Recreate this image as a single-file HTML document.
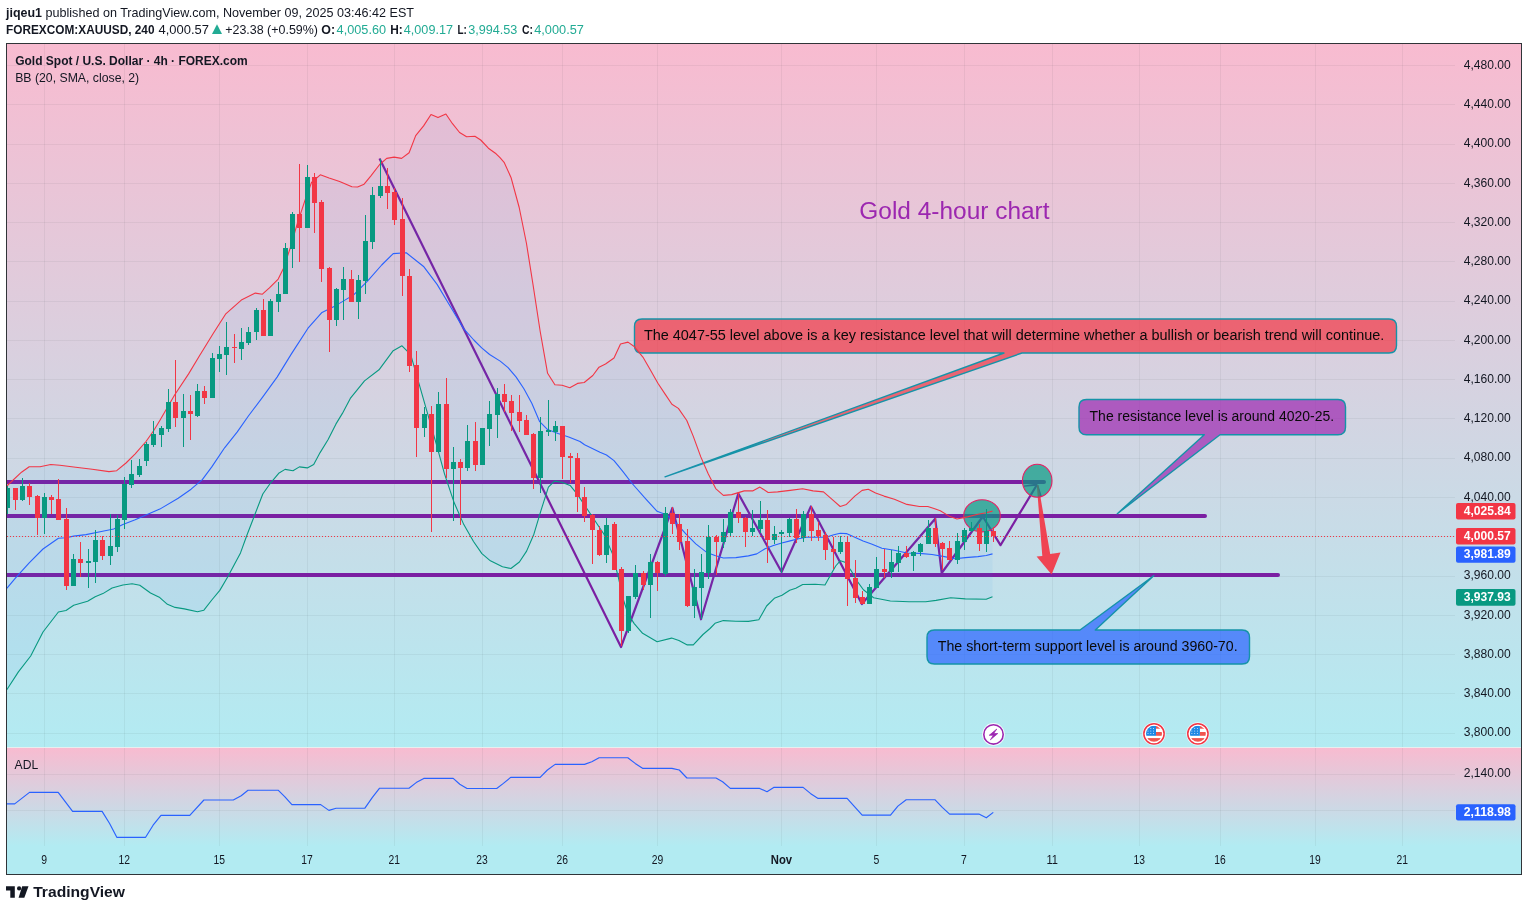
<!DOCTYPE html><html><head><meta charset="utf-8"><title>XAUUSD 4h chart</title>
<style>html,body{margin:0;padding:0;background:#fff;}body{width:1528px;height:911px;overflow:hidden;}svg{display:block;font-family:"Liberation Sans", Arial, sans-serif;}</style></head><body>
<svg width="1528" height="911" viewBox="0 0 1528 911">
<defs><linearGradient id="gMain" gradientUnits="userSpaceOnUse" x1="0" y1="44" x2="0" y2="747"><stop offset="0" stop-color="#F8BBD0"/><stop offset="1" stop-color="#B2EBF2"/></linearGradient><linearGradient id="gAdl" gradientUnits="userSpaceOnUse" x1="0" y1="748" x2="0" y2="846"><stop offset="0" stop-color="#F8BBD0"/><stop offset="1" stop-color="#B2EBF2"/></linearGradient><clipPath id="cPlot"><rect x="7" y="44" width="1448" height="703"/></clipPath><clipPath id="cAdl"><rect x="7" y="748" width="1448" height="98"/></clipPath><clipPath id="flagc1"><circle cx="0" cy="0" r="8"/></clipPath></defs>
<text x="6.0" y="17.0" font-size="13.20" font-weight="bold" fill="#131722" text-anchor="start" textLength="36.0" lengthAdjust="spacingAndGlyphs">jiqeu1</text>
<text x="45.5" y="17.0" font-size="13.20" font-weight="normal" fill="#131722" text-anchor="start" textLength="368.5" lengthAdjust="spacingAndGlyphs">published on TradingView.com, November 09, 2025 03:46:42 EST</text>
<text x="6.0" y="34.0" font-size="13.20" font-weight="bold" fill="#131722" text-anchor="start" textLength="148.5" lengthAdjust="spacingAndGlyphs">FOREXCOM:XAUUSD, 240</text>
<text x="158.5" y="34.0" font-size="13.20" font-weight="normal" fill="#131722" text-anchor="start" textLength="50.5" lengthAdjust="spacingAndGlyphs">4,000.57</text>
<polygon points="212,34 222,34 217,24.3" fill="#22AB94"/>
<text x="225.2" y="34.0" font-size="13.20" font-weight="normal" fill="#131722" text-anchor="start" textLength="92.8" lengthAdjust="spacingAndGlyphs">+23.38 (+0.59%)</text>
<text x="321.3" y="34.0" font-size="13.20" font-weight="bold" fill="#131722" text-anchor="start" textLength="13.8" lengthAdjust="spacingAndGlyphs">O:</text>
<text x="336.6" y="34.0" font-size="13.20" font-weight="normal" fill="#22AB94" text-anchor="start" textLength="49.5" lengthAdjust="spacingAndGlyphs">4,005.60</text>
<text x="390.3" y="34.0" font-size="13.20" font-weight="bold" fill="#131722" text-anchor="start" textLength="12.5" lengthAdjust="spacingAndGlyphs">H:</text>
<text x="403.8" y="34.0" font-size="13.20" font-weight="normal" fill="#22AB94" text-anchor="start" textLength="49.2" lengthAdjust="spacingAndGlyphs">4,009.17</text>
<text x="457.5" y="34.0" font-size="13.20" font-weight="bold" fill="#131722" text-anchor="start" textLength="9.4" lengthAdjust="spacingAndGlyphs">L:</text>
<text x="468.2" y="34.0" font-size="13.20" font-weight="normal" fill="#22AB94" text-anchor="start" textLength="49.2" lengthAdjust="spacingAndGlyphs">3,994.53</text>
<text x="521.9" y="34.0" font-size="13.20" font-weight="bold" fill="#131722" text-anchor="start" textLength="11.0" lengthAdjust="spacingAndGlyphs">C:</text>
<text x="534.2" y="34.0" font-size="13.20" font-weight="normal" fill="#22AB94" text-anchor="start" textLength="49.7" lengthAdjust="spacingAndGlyphs">4,000.57</text>
<rect x="7" y="44" width="1514" height="703" fill="url(#gMain)"/>
<rect x="7" y="747" width="1514" height="1" fill="#E8EEEF"/>
<rect x="7" y="748" width="1514" height="98" fill="url(#gAdl)"/>
<rect x="7" y="846" width="1514" height="28" fill="#B2EBF2"/>
<path d="M7 65.5H1455M7 104.5H1455M7 144.5H1455M7 183.5H1455M7 222.5H1455M7 261.5H1455M7 301.5H1455M7 340.5H1455M7 379.5H1455M7 418.5H1455M7 458.5H1455M7 497.5H1455M7 536.5H1455M7 576.5H1455M7 615.5H1455M7 654.5H1455M7 693.5H1455M7 733.5H1455M44.5 44V747M44.5 748V846M124.5 44V747M124.5 748V846M219.5 44V747M219.5 748V846M307.5 44V747M307.5 748V846M394.5 44V747M394.5 748V846M482.5 44V747M482.5 748V846M562.5 44V747M562.5 748V846M657.5 44V747M657.5 748V846M781.5 44V747M781.5 748V846M876.5 44V747M876.5 748V846M964.5 44V747M964.5 748V846M1052.5 44V747M1052.5 748V846M1139.5 44V747M1139.5 748V846M1220.5 44V747M1220.5 748V846M1315.5 44V747M1315.5 748V846M1402.5 44V747M1402.5 748V846M7 774.5H1455M7 810.5H1455" stroke="rgba(42,46,57,0.06)" stroke-width="1" fill="none"/>
<g clip-path="url(#cPlot)">
<path d="M4 482H1044M4 516H1205M4 575H1278" stroke="#7B1FA2" stroke-width="4" stroke-linecap="round" fill="none"/>
<polyline points="379.5,158.5 621.0,647.0 672.4,508.0 701.0,619.3 738.3,493.5 781.6,572.0 810.9,506.4 861.9,604.0 935.2,518.7 941.7,573.0 982.8,516.5 1000.5,545.2 1037.1,484.5" fill="none" stroke="#7B1FA2" stroke-width="2.2" stroke-linejoin="round"/>
<path d="M1037 483.6L1024 485.6L1024 486.8L1037 485.8Z" fill="#7B1FA2"/>
<path d="M1037.3 484.8L1041.2 497" stroke="#7B1FA2" stroke-width="1.6" fill="none"/>
<polygon points="1036.8,485 1038.4,485 1050.2,554 1060.5,552.5 1051.6,574.5 1036.6,556.4 1042.3,556" fill="#F23645" fill-opacity="0.92"/>
<ellipse cx="982" cy="515.8" rx="18.3" ry="16.1" fill="#089981" fill-opacity="0.7" stroke="#E91E63" stroke-width="1.1"/>
<ellipse cx="1037.2" cy="480.8" rx="14.8" ry="16.5" fill="#089981" fill-opacity="0.7" stroke="#E91E63" stroke-width="1.1"/>
<path d="M642.0 319.0 H1389.0 Q1396.5 319.0 1396.5 326.5 V345.5 Q1396.5 353.0 1389.0 353.0 H1022.0 L665.0 476.8 L1004.0 353.0 H642.0 Q634.5 353.0 634.5 345.5 V326.5 Q634.5 319.0 642.0 319.0Z" fill="#F23645" fill-opacity="0.7" stroke="#1593A8" stroke-width="1.4" stroke-linejoin="round"/>
<path d="M1086.5 399.5 H1338.0 Q1345.5 399.5 1345.5 407.0 V427.3 Q1345.5 434.8 1338.0 434.8 H1220.0 L1117.3 513.7 L1204.3 434.8 H1086.5 Q1079.0 434.8 1079.0 427.3 V407.0 Q1079.0 399.5 1086.5 399.5Z" fill="#9C27B0" fill-opacity="0.7" stroke="#1593A8" stroke-width="1.4" stroke-linejoin="round"/>
<path d="M934.5 630.0 H1080.0 L1153.7 575.7 L1095.3 630.0 H1242.0 Q1249.5 630.0 1249.5 637.5 V656.5 Q1249.5 664.0 1242.0 664.0 H934.5 Q927.0 664.0 927.0 656.5 V637.5 Q927.0 630.0 934.5 630.0Z" fill="#2962FF" fill-opacity="0.7" stroke="#1593A8" stroke-width="1.4" stroke-linejoin="round"/>
<text x="643.9" y="340.2" font-size="14.00" font-weight="normal" fill="#0a0a0a" text-anchor="start" textLength="740.5" lengthAdjust="spacingAndGlyphs">The 4047-55 level above is a key resistance level that will determine whether a bullish or bearish trend will continue.</text>
<text x="1089.6" y="421.2" font-size="14.00" font-weight="normal" fill="#0a0a0a" text-anchor="start" textLength="244.5" lengthAdjust="spacingAndGlyphs">The resistance level is around 4020-25.</text>
<text x="937.8" y="651.0" font-size="14.00" font-weight="normal" fill="#0a0a0a" text-anchor="start" textLength="299.8" lengthAdjust="spacingAndGlyphs">The short-term support level is around 3960-70.</text>
<text x="859.3" y="218.6" font-size="23.00" font-weight="normal" fill="#9C27B0" text-anchor="start" textLength="190.2" lengthAdjust="spacingAndGlyphs">Gold 4-hour chart</text>
<polygon points="6.8,486.0 21.5,472.2 29.2,466.7 40.0,466.7 50.7,464.5 59.9,465.2 73.7,467.0 92.2,469.2 109.0,471.6 116.7,470.7 126.0,463.0 135.2,453.8 146.0,441.5 153.6,430.8 159.8,420.5 174.6,395.0 188.6,373.9 199.2,356.3 213.2,333.5 225.5,314.2 241.3,300.1 255.3,293.1 262.4,294.2 269.4,287.8 278.2,279.1 283.4,268.5 290.4,247.5 297.5,222.9 304.5,201.8 311.5,182.5 320.3,174.8 329.1,178.0 339.6,181.5 351.9,186.7 357.6,187.0 364.1,184.2 370.7,176.1 379.7,164.5 386.7,158.4 394.1,157.1 401.6,158.4 409.1,152.7 415.7,135.6 423.6,125.9 431.0,114.5 438.0,117.6 445.9,114.0 452.5,123.7 459.6,132.5 466.6,136.7 474.9,136.2 480.7,140.0 488.4,148.2 496.1,153.8 500.0,157.7 504.1,162.3 511.0,177.4 519.2,207.5 526.4,243.0 533.0,284.5 540.2,331.5 547.6,373.3 554.9,384.8 562.1,385.3 569.8,387.7 577.5,383.4 584.2,382.5 592.8,375.5 599.0,367.2 605.5,364.0 614.0,358.0 620.5,344.0 628.0,342.1 634.5,346.8 642.9,357.1 650.4,370.1 657.9,383.2 665.3,394.4 671.9,404.3 678.4,408.4 686.8,420.5 693.3,436.4 700.8,456.9 708.2,473.7 715.7,488.6 723.4,495.4 731.7,494.6 744.2,490.9 752.6,490.9 759.9,487.1 768.2,492.5 777.6,491.9 790.1,490.4 802.6,488.8 813.1,490.9 823.5,491.9 831.8,499.2 840.2,506.5 846.4,504.4 854.8,496.1 862.1,490.4 868.3,489.2 875.6,492.9 884.0,496.1 894.4,499.2 906.9,504.4 919.5,506.5 927.8,506.5 934.0,508.6 940.3,510.7 948.7,515.9 957.0,519.0 967.4,516.9 977.9,514.2 986.2,512.8 992.5,511.1 992.5,596.8 986.2,599.3 965.3,598.9 950.7,597.7 936.1,600.4 925.7,601.8 909.0,601.8 890.3,601.0 873.6,597.7 869.5,594.5 863.4,589.8 857.3,581.4 851.1,570.6 845.0,562.2 840.4,560.7 835.7,566.0 829.6,576.8 825.0,585.0 815.2,584.3 802.7,584.5 795.8,588.3 789.7,590.3 782.0,595.2 774.3,598.3 766.6,606.0 758.8,619.8 748.4,621.4 735.9,621.2 723.4,620.6 715.0,623.3 710.0,628.5 703.0,634.5 693.3,644.9 687.3,644.9 678.9,640.5 671.6,638.1 657.1,641.7 642.6,633.3 634.2,623.6 628.1,614.0 623.3,599.5 618.4,577.7 612.4,553.6 604.0,534.2 594.3,519.7 584.6,505.2 577.4,494.4 570.1,485.4 561.7,482.3 554.4,481.1 548.4,487.1 541.1,510.1 533.9,534.2 526.6,551.1 519.4,562.0 510.9,568.5 502.5,566.8 490.4,560.8 481.9,553.6 473.5,541.5 463.8,524.6 454.2,502.8 444.5,473.8 437.1,446.8 428.3,416.1 419.5,385.3 410.7,354.6 402.0,345.8 393.2,350.7 379.0,369.8 364.5,380.9 350.3,398.4 342.4,413.4 336.0,423.9 328.0,439.8 320.1,452.6 313.7,464.4 307.3,467.9 299.4,466.9 293.0,470.7 285.1,469.4 278.7,473.3 270.7,482.8 262.8,494.0 254.8,514.7 246.9,535.3 240.5,552.9 227.8,576.7 219.8,590.4 211.8,600.0 203.9,610.2 197.5,611.8 184.3,608.9 175.1,607.4 167.4,604.3 159.8,597.6 150.5,593.0 139.8,585.3 132.1,583.7 122.9,585.0 112.1,588.0 102.9,593.6 95.2,596.7 87.6,601.3 73.7,605.2 66.0,610.5 58.4,612.0 43.0,632.0 30.7,656.0 18.4,671.9 6.8,689.7" fill="rgba(33,150,243,0.06)" stroke="none"/>
<polyline points="6.8,486.0 21.5,472.2 29.2,466.7 40.0,466.7 50.7,464.5 59.9,465.2 73.7,467.0 92.2,469.2 109.0,471.6 116.7,470.7 126.0,463.0 135.2,453.8 146.0,441.5 153.6,430.8 159.8,420.5 174.6,395.0 188.6,373.9 199.2,356.3 213.2,333.5 225.5,314.2 241.3,300.1 255.3,293.1 262.4,294.2 269.4,287.8 278.2,279.1 283.4,268.5 290.4,247.5 297.5,222.9 304.5,201.8 311.5,182.5 320.3,174.8 329.1,178.0 339.6,181.5 351.9,186.7 357.6,187.0 364.1,184.2 370.7,176.1 379.7,164.5 386.7,158.4 394.1,157.1 401.6,158.4 409.1,152.7 415.7,135.6 423.6,125.9 431.0,114.5 438.0,117.6 445.9,114.0 452.5,123.7 459.6,132.5 466.6,136.7 474.9,136.2 480.7,140.0 488.4,148.2 496.1,153.8 500.0,157.7 504.1,162.3 511.0,177.4 519.2,207.5 526.4,243.0 533.0,284.5 540.2,331.5 547.6,373.3 554.9,384.8 562.1,385.3 569.8,387.7 577.5,383.4 584.2,382.5 592.8,375.5 599.0,367.2 605.5,364.0 614.0,358.0 620.5,344.0 628.0,342.1 634.5,346.8 642.9,357.1 650.4,370.1 657.9,383.2 665.3,394.4 671.9,404.3 678.4,408.4 686.8,420.5 693.3,436.4 700.8,456.9 708.2,473.7 715.7,488.6 723.4,495.4 731.7,494.6 744.2,490.9 752.6,490.9 759.9,487.1 768.2,492.5 777.6,491.9 790.1,490.4 802.6,488.8 813.1,490.9 823.5,491.9 831.8,499.2 840.2,506.5 846.4,504.4 854.8,496.1 862.1,490.4 868.3,489.2 875.6,492.9 884.0,496.1 894.4,499.2 906.9,504.4 919.5,506.5 927.8,506.5 934.0,508.6 940.3,510.7 948.7,515.9 957.0,519.0 967.4,516.9 977.9,514.2 986.2,512.8 992.5,511.1" fill="none" stroke="#F23645" stroke-width="1.1" stroke-linejoin="round"/>
<polyline points="6.8,588.4 15.4,578.2 29.2,562.9 43.0,549.0 58.4,538.3 66.0,537.7 73.7,536.1 86.0,534.6 101.4,531.5 113.7,529.0 122.9,524.5 135.2,519.8 159.8,509.1 178.2,498.3 191.1,489.2 202.3,479.6 211.8,466.9 224.6,447.8 237.3,431.9 248.4,416.0 262.8,396.9 277.1,377.1 291.4,353.9 308.0,328.2 322.0,312.4 336.1,305.4 353.7,294.9 367.7,280.8 381.7,265.0 393.2,253.6 406.3,252.8 423.9,266.8 437.1,284.4 450.2,306.3 463.4,328.3 473.8,340.0 481.7,347.9 489.6,354.5 500.2,361.1 508.1,367.7 516.0,376.9 523.9,388.8 531.8,403.3 539.7,421.7 547.6,429.6 558.1,433.6 568.7,437.0 580.0,441.5 584.6,444.8 600.0,452.2 606.5,455.0 614.0,460.6 622.4,470.9 631.7,483.0 645.7,498.9 657.1,511.3 666.8,514.9 676.4,523.4 686.1,534.2 695.8,543.9 706.7,552.4 715.0,555.5 723.4,558.0 735.9,557.6 748.4,555.9 756.8,553.9 765.1,548.8 773.4,545.5 781.8,543.0 790.1,540.9 798.5,538.8 806.8,537.2 817.2,537.2 825.6,537.2 833.9,534.7 840.2,533.2 846.4,533.6 854.8,537.2 863.1,540.9 871.5,544.1 881.9,548.2 894.4,550.3 906.9,553.0 919.5,553.4 932.0,554.5 944.5,556.6 954.9,558.7 965.3,557.6 977.9,556.6 986.2,555.5 992.5,553.9" fill="none" stroke="#2962FF" stroke-width="1.1" stroke-linejoin="round"/>
<polyline points="6.8,689.7 18.4,671.9 30.7,656.0 43.0,632.0 58.4,612.0 66.0,610.5 73.7,605.2 87.6,601.3 95.2,596.7 102.9,593.6 112.1,588.0 122.9,585.0 132.1,583.7 139.8,585.3 150.5,593.0 159.8,597.6 167.4,604.3 175.1,607.4 184.3,608.9 197.5,611.8 203.9,610.2 211.8,600.0 219.8,590.4 227.8,576.7 240.5,552.9 246.9,535.3 254.8,514.7 262.8,494.0 270.7,482.8 278.7,473.3 285.1,469.4 293.0,470.7 299.4,466.9 307.3,467.9 313.7,464.4 320.1,452.6 328.0,439.8 336.0,423.9 342.4,413.4 350.3,398.4 364.5,380.9 379.0,369.8 393.2,350.7 402.0,345.8 410.7,354.6 419.5,385.3 428.3,416.1 437.1,446.8 444.5,473.8 454.2,502.8 463.8,524.6 473.5,541.5 481.9,553.6 490.4,560.8 502.5,566.8 510.9,568.5 519.4,562.0 526.6,551.1 533.9,534.2 541.1,510.1 548.4,487.1 554.4,481.1 561.7,482.3 570.1,485.4 577.4,494.4 584.6,505.2 594.3,519.7 604.0,534.2 612.4,553.6 618.4,577.7 623.3,599.5 628.1,614.0 634.2,623.6 642.6,633.3 657.1,641.7 671.6,638.1 678.9,640.5 687.3,644.9 693.3,644.9 703.0,634.5 710.0,628.5 715.0,623.3 723.4,620.6 735.9,621.2 748.4,621.4 758.8,619.8 766.6,606.0 774.3,598.3 782.0,595.2 789.7,590.3 795.8,588.3 802.7,584.5 815.2,584.3 825.0,585.0 829.6,576.8 835.7,566.0 840.4,560.7 845.0,562.2 851.1,570.6 857.3,581.4 863.4,589.8 869.5,594.5 873.6,597.7 890.3,601.0 909.0,601.8 925.7,601.8 936.1,600.4 950.7,597.7 965.3,598.9 986.2,599.3 992.5,596.8" fill="none" stroke="#089981" stroke-width="1.1" stroke-linejoin="round"/>
<path d="M5 488h5v20h-5zM7 486h1v2h-1zM7 508h1v6h-1zM20 486h5v14h-5zM22 478h1v8h-1zM22 500h1v1h-1zM42 497h5v21h-5zM44 493h1v4h-1zM44 518h1v16h-1zM71 559h5v27h-5zM73 554h1v5h-1zM86 561h5v2h-5zM88 549h1v12h-1zM88 563h1v25h-1zM93 540h5v22h-5zM95 530h1v10h-1zM95 562h1v21h-1zM108 546h5v10h-5zM110 514h1v32h-1zM110 556h1v9h-1zM115 519h5v28h-5zM117 515h1v4h-1zM117 547h1v5h-1zM122 484h5v36h-5zM124 477h1v7h-1zM124 520h1v9h-1zM129 474h5v11h-5zM131 460h1v14h-1zM131 485h1v3h-1zM137 466h5v9h-5zM139 459h1v7h-1zM139 475h1v2h-1zM144 444h5v17h-5zM146 442h1v2h-1zM146 461h1v5h-1zM151 434h5v11h-5zM153 421h1v13h-1zM153 445h1v2h-1zM159 428h5v7h-5zM161 426h1v2h-1zM161 435h1v12h-1zM166 402h5v27h-5zM168 389h1v13h-1zM168 429h1v3h-1zM181 411h5v7h-5zM183 394h1v17h-1zM183 418h1v29h-1zM195 391h5v25h-5zM197 384h1v7h-1zM197 416h1v1h-1zM210 358h5v40h-5zM212 353h1v5h-1zM217 354h5v5h-5zM219 346h1v8h-1zM219 359h1v13h-1zM224 347h5v8h-5zM226 322h1v25h-1zM226 355h1v20h-1zM239 342h5v7h-5zM241 328h1v14h-1zM241 349h1v11h-1zM246 332h5v11h-5zM248 327h1v5h-1zM248 343h1v2h-1zM254 310h5v22h-5zM256 308h1v2h-1zM256 332h1v8h-1zM268 301h5v35h-5zM270 299h1v2h-1zM276 294h5v8h-5zM278 282h1v12h-1zM278 302h1v10h-1zM283 248h5v46h-5zM285 243h1v5h-1zM290 214h5v35h-5zM292 212h1v2h-1zM292 249h1v19h-1zM305 177h5v51h-5zM307 165h1v12h-1zM334 289h5v31h-5zM336 288h1v1h-1zM336 320h1v6h-1zM341 279h5v11h-5zM343 267h1v12h-1zM343 290h1v30h-1zM356 280h5v22h-5zM358 275h1v5h-1zM358 302h1v17h-1zM363 241h5v40h-5zM365 215h1v26h-1zM365 281h1v13h-1zM370 195h5v47h-5zM372 187h1v8h-1zM372 242h1v7h-1zM378 186h5v10h-5zM380 159h1v27h-1zM380 196h1v2h-1zM422 414h5v14h-5zM424 407h1v7h-1zM424 428h1v9h-1zM436 404h5v48h-5zM438 392h1v12h-1zM438 452h1v1h-1zM451 462h5v7h-5zM453 447h1v15h-1zM453 469h1v52h-1zM465 441h5v27h-5zM467 425h1v16h-1zM467 468h1v3h-1zM480 428h5v37h-5zM487 414h5v15h-5zM489 401h1v13h-1zM489 429h1v17h-1zM495 394h5v21h-5zM497 388h1v6h-1zM497 415h1v23h-1zM538 431h5v47h-5zM540 417h1v14h-1zM540 478h1v15h-1zM546 430h5v2h-5zM548 400h1v30h-1zM548 432h1v4h-1zM553 426h5v6h-5zM555 421h1v5h-1zM555 432h1v9h-1zM604 525h5v30h-5zM606 518h1v7h-1zM606 555h1v8h-1zM626 596h5v35h-5zM628 631h1v2h-1zM633 573h5v24h-5zM635 565h1v8h-1zM635 597h1v2h-1zM648 562h5v23h-5zM650 554h1v8h-1zM650 585h1v33h-1zM663 513h5v61h-5zM665 507h1v6h-1zM665 574h1v2h-1zM692 587h5v19h-5zM694 569h1v18h-1zM694 606h1v12h-1zM699 572h5v16h-5zM701 554h1v18h-1zM701 588h1v31h-1zM706 537h5v36h-5zM708 525h1v12h-1zM708 573h1v6h-1zM721 532h5v10h-5zM723 519h1v13h-1zM723 542h1v6h-1zM728 512h5v21h-5zM730 509h1v3h-1zM730 533h1v3h-1zM750 528h5v4h-5zM752 510h1v18h-1zM752 532h1v4h-1zM758 520h5v9h-5zM760 501h1v19h-1zM760 529h1v4h-1zM772 534h5v6h-5zM774 526h1v8h-1zM774 540h1v4h-1zM779 532h5v2h-5zM781 530h1v2h-1zM781 534h1v39h-1zM787 519h5v14h-5zM789 518h1v1h-1zM789 533h1v4h-1zM801 514h5v24h-5zM803 511h1v3h-1zM803 538h1v4h-1zM838 542h5v10h-5zM840 536h1v6h-1zM840 552h1v2h-1zM867 587h5v17h-5zM869 584h1v3h-1zM874 569h5v19h-5zM876 557h1v12h-1zM889 562h5v10h-5zM891 550h1v12h-1zM891 572h1v6h-1zM896 553h5v10h-5zM898 546h1v7h-1zM898 563h1v9h-1zM911 552h5v4h-5zM913 551h1v1h-1zM913 556h1v15h-1zM918 544h5v8h-5zM920 543h1v1h-1zM920 552h1v4h-1zM926 528h5v16h-5zM928 520h1v8h-1zM955 541h5v19h-5zM957 533h1v8h-1zM957 560h1v4h-1zM962 530h5v12h-5zM964 528h1v2h-1zM964 542h1v8h-1zM969 528h5v3h-5zM971 522h1v6h-1zM971 531h1v1h-1zM984 531h5v13h-5zM986 509h1v22h-1zM986 544h1v8h-1z" fill="#089981"/>
<path d="M13 488h5v12h-5zM15 500h1v10h-1zM27 486h5v11h-5zM29 483h1v3h-1zM29 497h1v8h-1zM35 496h5v22h-5zM37 495h1v1h-1zM37 518h1v17h-1zM49 497h5v3h-5zM51 495h1v2h-1zM51 500h1v14h-1zM56 499h5v21h-5zM58 479h1v20h-1zM64 519h5v67h-5zM66 508h1v11h-1zM66 586h1v4h-1zM78 559h5v4h-5zM80 542h1v17h-1zM80 563h1v14h-1zM100 540h5v16h-5zM102 536h1v4h-1zM102 556h1v4h-1zM173 402h5v16h-5zM175 360h1v42h-1zM175 418h1v9h-1zM188 411h5v3h-5zM190 395h1v16h-1zM190 414h1v26h-1zM202 391h5v7h-5zM204 386h1v5h-1zM204 398h1v6h-1zM232 347h5v1h-5zM234 334h1v13h-1zM234 348h1v15h-1zM261 310h5v26h-5zM263 299h1v11h-1zM297 214h5v14h-5zM299 164h1v50h-1zM299 228h1v34h-1zM312 177h5v26h-5zM314 173h1v4h-1zM314 203h1v30h-1zM319 202h5v67h-5zM321 200h1v2h-1zM321 269h1v13h-1zM327 268h5v52h-5zM329 267h1v1h-1zM329 320h1v32h-1zM349 279h5v23h-5zM351 270h1v9h-1zM385 186h5v7h-5zM387 168h1v18h-1zM387 193h1v16h-1zM392 192h5v28h-5zM394 188h1v4h-1zM394 220h1v5h-1zM400 219h5v57h-5zM402 198h1v21h-1zM402 276h1v20h-1zM407 276h5v90h-5zM409 269h1v7h-1zM409 366h1v6h-1zM414 365h5v63h-5zM416 351h1v14h-1zM416 428h1v29h-1zM429 414h5v38h-5zM431 406h1v8h-1zM431 452h1v80h-1zM444 404h5v65h-5zM446 378h1v26h-1zM446 469h1v9h-1zM458 462h5v6h-5zM460 459h1v3h-1zM460 468h1v57h-1zM473 441h5v24h-5zM475 422h1v19h-1zM475 465h1v6h-1zM502 394h5v8h-5zM504 384h1v10h-1zM504 402h1v10h-1zM509 401h5v12h-5zM511 395h1v6h-1zM511 413h1v18h-1zM517 412h5v9h-5zM519 395h1v17h-1zM519 421h1v11h-1zM524 420h5v15h-5zM526 415h1v5h-1zM531 434h5v44h-5zM533 433h1v1h-1zM533 478h1v11h-1zM560 426h5v31h-5zM562 457h1v22h-1zM568 456h5v2h-5zM570 453h1v3h-1zM570 458h1v25h-1zM575 458h5v39h-5zM577 453h1v5h-1zM577 497h1v15h-1zM582 497h5v19h-5zM584 487h1v10h-1zM584 516h1v6h-1zM590 515h5v15h-5zM592 514h1v1h-1zM592 530h1v34h-1zM597 530h5v25h-5zM599 526h1v4h-1zM599 555h1v1h-1zM612 524h5v46h-5zM614 522h1v2h-1zM619 569h5v62h-5zM621 567h1v2h-1zM621 631h1v15h-1zM641 573h5v12h-5zM643 571h1v2h-1zM643 585h1v5h-1zM655 562h5v11h-5zM657 561h1v1h-1zM657 573h1v18h-1zM670 513h5v11h-5zM672 507h1v6h-1zM672 524h1v10h-1zM677 524h5v18h-5zM679 514h1v10h-1zM679 542h1v8h-1zM685 541h5v65h-5zM687 529h1v12h-1zM687 606h1v1h-1zM714 537h5v5h-5zM716 535h1v2h-1zM716 542h1v33h-1zM736 512h5v6h-5zM738 492h1v20h-1zM738 518h1v5h-1zM743 518h5v14h-5zM745 517h1v1h-1zM745 532h1v15h-1zM765 520h5v20h-5zM767 510h1v10h-1zM767 540h1v23h-1zM794 519h5v19h-5zM796 509h1v10h-1zM796 538h1v5h-1zM809 514h5v17h-5zM811 506h1v8h-1zM811 531h1v10h-1zM816 530h5v6h-5zM818 522h1v8h-1zM818 536h1v5h-1zM823 535h5v15h-5zM825 532h1v3h-1zM825 550h1v10h-1zM831 549h5v3h-5zM833 537h1v12h-1zM833 552h1v17h-1zM845 542h5v37h-5zM847 536h1v6h-1zM847 579h1v27h-1zM853 578h5v20h-5zM855 560h1v18h-1zM855 598h1v5h-1zM860 597h5v7h-5zM862 591h1v6h-1zM882 569h5v3h-5zM884 549h1v20h-1zM884 572h1v6h-1zM904 553h5v4h-5zM906 546h1v7h-1zM906 557h1v1h-1zM933 528h5v16h-5zM935 518h1v10h-1zM935 544h1v3h-1zM940 543h5v6h-5zM942 542h1v1h-1zM942 549h1v21h-1zM947 548h5v12h-5zM949 541h1v7h-1zM977 528h5v16h-5zM979 524h1v4h-1zM979 544h1v7h-1zM991 531h5v5h-5zM993 527h1v4h-1zM993 536h1v6h-1z" fill="#F23645"/>
<path d="M7 536.5H1455" stroke="#F23645" stroke-width="1" stroke-dasharray="1 2" fill="none"/>
<g transform="translate(993.5,734.4)"><circle r="11.3" fill="#fff" fill-opacity="0.85"/><circle r="9.7" fill="#fff" stroke="#9C27B0" stroke-width="1.6"/><path d="M3.3,-5.4 L-4.3,0.9 L-0.2,0.9 L-3.1,5.4 L4.3,-0.9 L0.2,-0.9 Z" fill="#9C27B0" stroke="#9C27B0" stroke-width="0.7" stroke-linejoin="round"/></g>
<g transform="translate(1154.0,733.8)"><circle r="11.6" fill="#fff" fill-opacity="0.8"/><circle r="10.15" fill="#fff" stroke="#F23645" stroke-width="1.5"/><g clip-path="url(#flagc1)"><rect x="-8" y="-8" width="16" height="16" fill="#fff"/><rect x="2" y="-8" width="6" height="2.9" fill="#F0554F"/><rect x="2" y="-1.8" width="6" height="3.8" fill="#F0554F"/><rect x="-8" y="4.3" width="16" height="4" fill="#F0554F"/><rect x="-8.2" y="-8" width="10.2" height="10" fill="#1E88E5"/><g fill="#fff" fill-opacity="0.9"><circle cx="-3.2" cy="-5.4" r="0.5"/><circle cx="-0.5" cy="-5.4" r="0.5"/><circle cx="-6" cy="-2.8" r="0.5"/><circle cx="-3.2" cy="-2.8" r="0.5"/><circle cx="-0.5" cy="-2.8" r="0.5"/><circle cx="-6" cy="-0.2" r="0.5"/><circle cx="-3.2" cy="-0.2" r="0.5"/><circle cx="-0.5" cy="-0.2" r="0.5"/></g></g></g>
<g transform="translate(1197.9,733.8)"><circle r="11.6" fill="#fff" fill-opacity="0.8"/><circle r="10.15" fill="#fff" stroke="#F23645" stroke-width="1.5"/><g clip-path="url(#flagc1)"><rect x="-8" y="-8" width="16" height="16" fill="#fff"/><rect x="2" y="-8" width="6" height="2.9" fill="#F0554F"/><rect x="2" y="-1.8" width="6" height="3.8" fill="#F0554F"/><rect x="-8" y="4.3" width="16" height="4" fill="#F0554F"/><rect x="-8.2" y="-8" width="10.2" height="10" fill="#1E88E5"/><g fill="#fff" fill-opacity="0.9"><circle cx="-3.2" cy="-5.4" r="0.5"/><circle cx="-0.5" cy="-5.4" r="0.5"/><circle cx="-6" cy="-2.8" r="0.5"/><circle cx="-3.2" cy="-2.8" r="0.5"/><circle cx="-0.5" cy="-2.8" r="0.5"/><circle cx="-6" cy="-0.2" r="0.5"/><circle cx="-3.2" cy="-0.2" r="0.5"/><circle cx="-0.5" cy="-0.2" r="0.5"/></g></g></g>
</g>
<text x="15.2" y="65.0" font-size="13.20" font-weight="bold" fill="#131722" text-anchor="start" textLength="232.5" lengthAdjust="spacingAndGlyphs">Gold Spot / U.S. Dollar · 4h · FOREX.com</text>
<text x="15.2" y="81.9" font-size="13.20" font-weight="normal" fill="#131722" text-anchor="start" textLength="124.0" lengthAdjust="spacingAndGlyphs">BB (20, SMA, close, 2)</text>
<g clip-path="url(#cAdl)">
<polyline points="7.0,803.9 14.7,803.9 29.5,792.4 58.2,792.4 72.6,811.4 102.1,811.4 109.6,823.5 116.8,837.3 145.6,837.3 153.1,825.2 161.0,815.4 189.8,815.4 203.9,800.0 233.3,800.0 241.2,795.7 248.0,790.2 278.1,790.2 284.7,796.7 291.9,804.6 320.7,804.6 328.9,810.4 336.1,808.2 364.9,808.2 372.4,797.4 379.6,788.2 409.0,788.2 416.2,782.6 423.8,778.4 453.2,778.4 459.8,784.3 467.0,788.5 496.7,788.5 503.4,783.4 510.7,777.4 540.1,777.4 547.4,770.0 555.1,764.4 584.5,764.4 591.8,761.7 599.1,757.7 627.8,757.7 635.2,763.4 642.9,768.4 671.9,768.4 679.3,770.0 686.9,778.0 716.0,778.0 722.6,781.7 730.3,788.4 759.7,788.4 767.0,791.7 773.7,787.4 803.1,787.4 810.4,793.4 818.1,798.4 847.1,798.4 854.5,806.7 862.2,815.1 890.5,815.1 897.9,806.1 906.2,799.7 934.9,799.7 942.3,807.4 949.6,814.1 978.9,814.1 986.3,817.8 993.3,812.4" fill="none" stroke="#2962FF" stroke-width="1.15" stroke-linejoin="round"/>
</g>
<text x="14.6" y="768.6" font-size="13.50" font-weight="normal" fill="#131722" text-anchor="start" textLength="23.6" lengthAdjust="spacingAndGlyphs">ADL</text>
<text x="1510.8" y="68.7" font-size="12.00" font-weight="normal" fill="#131722" text-anchor="end" textLength="47.0" lengthAdjust="spacingAndGlyphs">4,480.00</text><text x="1510.8" y="108.0" font-size="12.00" font-weight="normal" fill="#131722" text-anchor="end" textLength="47.0" lengthAdjust="spacingAndGlyphs">4,440.00</text><text x="1510.8" y="147.2" font-size="12.00" font-weight="normal" fill="#131722" text-anchor="end" textLength="47.0" lengthAdjust="spacingAndGlyphs">4,400.00</text><text x="1510.8" y="186.5" font-size="12.00" font-weight="normal" fill="#131722" text-anchor="end" textLength="47.0" lengthAdjust="spacingAndGlyphs">4,360.00</text><text x="1510.8" y="225.8" font-size="12.00" font-weight="normal" fill="#131722" text-anchor="end" textLength="47.0" lengthAdjust="spacingAndGlyphs">4,320.00</text><text x="1510.8" y="265.1" font-size="12.00" font-weight="normal" fill="#131722" text-anchor="end" textLength="47.0" lengthAdjust="spacingAndGlyphs">4,280.00</text><text x="1510.8" y="304.3" font-size="12.00" font-weight="normal" fill="#131722" text-anchor="end" textLength="47.0" lengthAdjust="spacingAndGlyphs">4,240.00</text><text x="1510.8" y="343.6" font-size="12.00" font-weight="normal" fill="#131722" text-anchor="end" textLength="47.0" lengthAdjust="spacingAndGlyphs">4,200.00</text><text x="1510.8" y="382.9" font-size="12.00" font-weight="normal" fill="#131722" text-anchor="end" textLength="47.0" lengthAdjust="spacingAndGlyphs">4,160.00</text><text x="1510.8" y="422.2" font-size="12.00" font-weight="normal" fill="#131722" text-anchor="end" textLength="47.0" lengthAdjust="spacingAndGlyphs">4,120.00</text><text x="1510.8" y="461.4" font-size="12.00" font-weight="normal" fill="#131722" text-anchor="end" textLength="47.0" lengthAdjust="spacingAndGlyphs">4,080.00</text><text x="1510.8" y="500.7" font-size="12.00" font-weight="normal" fill="#131722" text-anchor="end" textLength="47.0" lengthAdjust="spacingAndGlyphs">4,040.00</text><text x="1510.8" y="579.3" font-size="12.00" font-weight="normal" fill="#131722" text-anchor="end" textLength="47.0" lengthAdjust="spacingAndGlyphs">3,960.00</text><text x="1510.8" y="618.5" font-size="12.00" font-weight="normal" fill="#131722" text-anchor="end" textLength="47.0" lengthAdjust="spacingAndGlyphs">3,920.00</text><text x="1510.8" y="657.8" font-size="12.00" font-weight="normal" fill="#131722" text-anchor="end" textLength="47.0" lengthAdjust="spacingAndGlyphs">3,880.00</text><text x="1510.8" y="697.1" font-size="12.00" font-weight="normal" fill="#131722" text-anchor="end" textLength="47.0" lengthAdjust="spacingAndGlyphs">3,840.00</text><text x="1510.8" y="736.4" font-size="12.00" font-weight="normal" fill="#131722" text-anchor="end" textLength="47.0" lengthAdjust="spacingAndGlyphs">3,800.00</text>
<rect x="1456" y="503.0" width="59.5" height="16.6" rx="2" fill="#F23645"/><text x="1510.8" y="515.1" font-size="12.00" font-weight="bold" fill="#fff" text-anchor="end" textLength="47.0" lengthAdjust="spacingAndGlyphs">4,025.84</text>
<rect x="1456" y="528.0" width="59.5" height="16.5" rx="2" fill="#F23645"/><text x="1510.8" y="540.0" font-size="12.00" font-weight="bold" fill="#fff" text-anchor="end" textLength="47.0" lengthAdjust="spacingAndGlyphs">4,000.57</text>
<rect x="1456" y="546.4" width="59.5" height="16.3" rx="2" fill="#2962FF"/><text x="1510.8" y="558.3" font-size="12.00" font-weight="bold" fill="#fff" text-anchor="end" textLength="47.0" lengthAdjust="spacingAndGlyphs">3,981.89</text>
<rect x="1456" y="589.0" width="59.5" height="16.7" rx="2" fill="#089981"/><text x="1510.8" y="601.1" font-size="12.00" font-weight="bold" fill="#fff" text-anchor="end" textLength="47.0" lengthAdjust="spacingAndGlyphs">3,937.93</text>
<text x="1510.8" y="777.1" font-size="12.00" font-weight="normal" fill="#131722" text-anchor="end" textLength="47.0" lengthAdjust="spacingAndGlyphs">2,140.00</text>
<rect x="1456" y="804.3" width="59.5" height="16.3" rx="2" fill="#2962FF"/><text x="1510.8" y="816.2" font-size="12.00" font-weight="bold" fill="#fff" text-anchor="end" textLength="47.0" lengthAdjust="spacingAndGlyphs">2,118.98</text>
<text x="44.2" y="864.0" font-size="12.00" font-weight="normal" fill="#131722" text-anchor="middle" textLength="5.8" lengthAdjust="spacingAndGlyphs">9</text>
<text x="124.3" y="864.0" font-size="12.00" font-weight="normal" fill="#131722" text-anchor="middle" textLength="11.5" lengthAdjust="spacingAndGlyphs">12</text>
<text x="219.2" y="864.0" font-size="12.00" font-weight="normal" fill="#131722" text-anchor="middle" textLength="11.5" lengthAdjust="spacingAndGlyphs">15</text>
<text x="307.0" y="864.0" font-size="12.00" font-weight="normal" fill="#131722" text-anchor="middle" textLength="11.5" lengthAdjust="spacingAndGlyphs">17</text>
<text x="394.3" y="864.0" font-size="12.00" font-weight="normal" fill="#131722" text-anchor="middle" textLength="11.5" lengthAdjust="spacingAndGlyphs">21</text>
<text x="482.0" y="864.0" font-size="12.00" font-weight="normal" fill="#131722" text-anchor="middle" textLength="11.5" lengthAdjust="spacingAndGlyphs">23</text>
<text x="562.2" y="864.0" font-size="12.00" font-weight="normal" fill="#131722" text-anchor="middle" textLength="11.5" lengthAdjust="spacingAndGlyphs">26</text>
<text x="657.4" y="864.0" font-size="12.00" font-weight="normal" fill="#131722" text-anchor="middle" textLength="11.5" lengthAdjust="spacingAndGlyphs">29</text>
<text x="781.4" y="864.0" font-size="12.00" font-weight="bold" fill="#131722" text-anchor="middle" textLength="21.3" lengthAdjust="spacingAndGlyphs">Nov</text>
<text x="876.3" y="864.0" font-size="12.00" font-weight="normal" fill="#131722" text-anchor="middle" textLength="5.8" lengthAdjust="spacingAndGlyphs">5</text>
<text x="964.0" y="864.0" font-size="12.00" font-weight="normal" fill="#131722" text-anchor="middle" textLength="5.8" lengthAdjust="spacingAndGlyphs">7</text>
<text x="1052.2" y="864.0" font-size="12.00" font-weight="normal" fill="#131722" text-anchor="middle" textLength="11.5" lengthAdjust="spacingAndGlyphs">11</text>
<text x="1139.3" y="864.0" font-size="12.00" font-weight="normal" fill="#131722" text-anchor="middle" textLength="11.5" lengthAdjust="spacingAndGlyphs">13</text>
<text x="1220.1" y="864.0" font-size="12.00" font-weight="normal" fill="#131722" text-anchor="middle" textLength="11.5" lengthAdjust="spacingAndGlyphs">16</text>
<text x="1315.1" y="864.0" font-size="12.00" font-weight="normal" fill="#131722" text-anchor="middle" textLength="11.5" lengthAdjust="spacingAndGlyphs">19</text>
<text x="1402.2" y="864.0" font-size="12.00" font-weight="normal" fill="#131722" text-anchor="middle" textLength="11.5" lengthAdjust="spacingAndGlyphs">21</text>
<rect x="6.5" y="43.5" width="1515" height="831" fill="none" stroke="#303438" stroke-width="1"/>
<g fill="#131722">
<path d="M6 886.2H14.8V897.7H10.3V890.6H6Z"/>
<circle cx="19.1" cy="888.4" r="2.1"/>
<path d="M22.2 886.2H28.5L24.3 897.7H18.6Z"/>
</g>
<text x="33.2" y="897.4" font-size="15.50" font-weight="bold" fill="#131722" text-anchor="start" textLength="91.8" lengthAdjust="spacingAndGlyphs">TradingView</text>
</svg></body></html>
